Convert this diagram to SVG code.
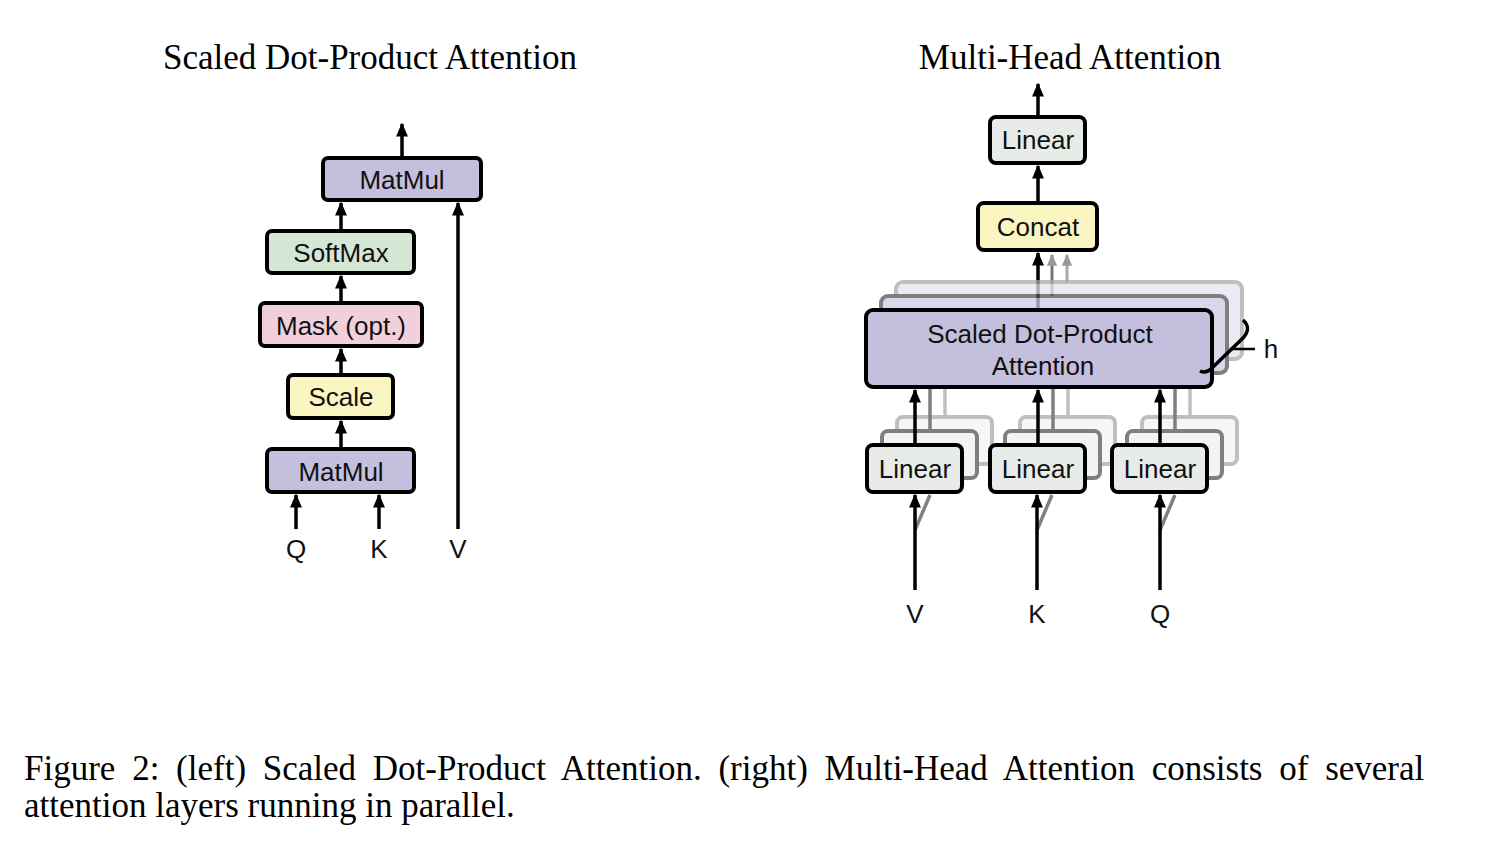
<svg xmlns="http://www.w3.org/2000/svg" width="1510" height="864" viewBox="0 0 1510 864">
<defs>
<marker id="ah" viewBox="0 0 10 10" refX="9" refY="5" markerWidth="4" markerHeight="3.4" orient="auto" markerUnits="strokeWidth" preserveAspectRatio="none"><path d="M0,0 L10,5 L0,10 Z" fill="#000"/></marker>
<marker id="ahg" viewBox="0 0 10 10" refX="9" refY="5" markerWidth="4" markerHeight="3.4" orient="auto" markerUnits="strokeWidth" preserveAspectRatio="none"><path d="M0,0 L10,5 L0,10 Z" fill="#999"/></marker>
<style>
.b{stroke:#000;stroke-width:4}
.t{font-family:"Liberation Sans",Arial,sans-serif;font-size:26px;text-anchor:middle;fill:#111}
.s{font-family:"Liberation Serif","Times New Roman",serif;font-size:35px;fill:#000}
.l{stroke:#000;stroke-width:3.5;fill:none}
.pur{fill:#c4bfdd}.grn{fill:#d3e7d4}.pnk{fill:#f1cfdd}.yel{fill:#fbf5c2}.lin{fill:#e8ece8}
</style>
</defs>
<rect width="1510" height="864" fill="#fff"/>
<text class="s" x="370" y="69" text-anchor="middle">Scaled Dot-Product Attention</text>
<text class="s" x="1070" y="69" text-anchor="middle">Multi-Head Attention</text>

<g id="connectors">
<line class="l" x1="402" y1="157" x2="402" y2="124" marker-end="url(#ah)"/>
<line class="l" x1="341" y1="230" x2="341" y2="203" marker-end="url(#ah)"/>
<line class="l" x1="341" y1="302" x2="341" y2="276" marker-end="url(#ah)"/>
<line class="l" x1="341" y1="374" x2="341" y2="349" marker-end="url(#ah)"/>
<line class="l" x1="341" y1="448" x2="341" y2="421" marker-end="url(#ah)"/>
<line class="l" x1="296" y1="529" x2="296" y2="495" marker-end="url(#ah)"/>
<line class="l" x1="379" y1="529" x2="379" y2="495" marker-end="url(#ah)"/>
<line class="l" x1="458" y1="529" x2="458" y2="203" marker-end="url(#ah)"/>

<line class="l" x1="1038" y1="116" x2="1038" y2="84" marker-end="url(#ah)"/>
<line class="l" x1="1038" y1="202" x2="1038" y2="166" marker-end="url(#ah)"/>
<line x1="1067" y1="282" x2="1067" y2="255" stroke="#aaa" stroke-width="3" marker-end="url(#ahg)"/>
<line x1="1052" y1="296" x2="1052" y2="255" stroke="#777" stroke-width="3" marker-end="url(#ahg)"/>
<line class="l" x1="1038" y1="309" x2="1038" y2="253" marker-end="url(#ah)"/>
</g>

<g id="sdpa-matmul-top"><rect class="b pur" x="323" y="158" width="158" height="42" rx="5"/><text class="t" x="402" y="189">MatMul</text></g>
<g id="sdpa-softmax"><rect class="b grn" x="267" y="231" width="147" height="42" rx="5"/><text class="t" x="341" y="262">SoftMax</text></g>
<g id="sdpa-mask"><rect class="b pnk" x="260" y="303" width="162" height="43" rx="5"/><text class="t" x="341" y="335">Mask (opt.)</text></g>
<g id="sdpa-scale"><rect class="b yel" x="288" y="375" width="105" height="43" rx="5"/><text class="t" x="341" y="406">Scale</text></g>
<g id="sdpa-matmul-bottom"><rect class="b pur" x="267" y="449" width="147" height="43" rx="5"/><text class="t" x="341" y="481">MatMul</text></g>
<text class="t" x="296" y="558" font-size="28">Q</text>
<text class="t" x="379" y="558" font-size="28">K</text>
<text class="t" x="458" y="558" font-size="28">V</text>

<g id="mha-linear-top"><rect class="b lin" x="990" y="117" width="95" height="46" rx="6"/><text class="t" x="1038" y="149">Linear</text></g>
<g id="mha-concat"><rect class="b yel" x="978" y="203" width="119" height="47" rx="6"/><text class="t" x="1038" y="236">Concat</text></g>

<g id="mha-shadows" opacity="0.75">
<rect x="896" y="282" width="346" height="77" rx="7" fill="#e6e3f0" stroke="#aaa" stroke-width="4"/>
<rect x="881" y="296" width="346" height="77" rx="7" fill="#cfcae4" stroke="#555" stroke-width="4"/>
<rect x="897" y="417" width="95" height="47" rx="6" fill="#f2f4f2" stroke="#aaa" stroke-width="4"/>
<rect x="882" y="431" width="95" height="47" rx="6" fill="#eef0ee" stroke="#555" stroke-width="4"/>
<rect x="1020" y="417" width="95" height="47" rx="6" fill="#f2f4f2" stroke="#aaa" stroke-width="4"/>
<rect x="1005" y="431" width="95" height="47" rx="6" fill="#eef0ee" stroke="#555" stroke-width="4"/>
<rect x="1142" y="417" width="95" height="47" rx="6" fill="#f2f4f2" stroke="#aaa" stroke-width="4"/>
<rect x="1127" y="431" width="95" height="47" rx="6" fill="#eef0ee" stroke="#555" stroke-width="4"/>
<g stroke-width="3.5">
<line x1="930" y1="430" x2="930" y2="373" stroke="#555"/><line x1="945" y1="416" x2="945" y2="359" stroke="#aaa"/>
<line x1="1053" y1="430" x2="1053" y2="373" stroke="#555"/><line x1="1068" y1="416" x2="1068" y2="359" stroke="#aaa"/>
<line x1="1175" y1="430" x2="1175" y2="373" stroke="#555"/><line x1="1190" y1="416" x2="1190" y2="359" stroke="#aaa"/>
<line x1="915" y1="530" x2="930" y2="495" stroke="#555"/>
<line x1="1037" y1="530" x2="1052" y2="495" stroke="#555"/>
<line x1="1160" y1="530" x2="1175" y2="495" stroke="#555"/>
</g>
</g>

<g id="mha-sdpa"><rect class="b pur" x="866" y="310" width="346" height="77" rx="7"/><text class="t" x="1040" y="343">Scaled Dot-Product</text><text class="t" x="1043" y="375">Attention</text></g>
<path d="M1243,320 Q1252,328 1243,338 L1212,368 Q1206,374 1200,371" fill="none" stroke="#000" stroke-width="3.5"/>
<line x1="1230" y1="349" x2="1255" y2="349" stroke="#000" stroke-width="2.5"/>
<text class="t" x="1271" y="358">h</text>

<g id="mha-linear-v"><rect class="b lin" x="867" y="445" width="95" height="47" rx="6"/><text class="t" x="915" y="478">Linear</text></g>
<g id="mha-linear-k"><rect class="b lin" x="990" y="445" width="95" height="47" rx="6"/><text class="t" x="1038" y="478">Linear</text></g>
<g id="mha-linear-q"><rect class="b lin" x="1112" y="445" width="95" height="47" rx="6"/><text class="t" x="1160" y="478">Linear</text></g>

<g id="connectors-mha">
<line class="l" x1="915" y1="444" x2="915" y2="390" marker-end="url(#ah)"/>
<line class="l" x1="1038" y1="444" x2="1038" y2="390" marker-end="url(#ah)"/>
<line class="l" x1="1160" y1="444" x2="1160" y2="390" marker-end="url(#ah)"/>
<line class="l" x1="915" y1="590" x2="915" y2="495" marker-end="url(#ah)"/>
<line class="l" x1="1037" y1="590" x2="1037" y2="495" marker-end="url(#ah)"/>
<line class="l" x1="1160" y1="590" x2="1160" y2="495" marker-end="url(#ah)"/>
</g>
<text class="t" x="915" y="623" font-size="28">V</text>
<text class="t" x="1037" y="623" font-size="28">K</text>
<text class="t" x="1160" y="623" font-size="28">Q</text>

<text class="s" x="24" y="780" word-spacing="8">Figure 2: (left) Scaled Dot-Product Attention.  (right) Multi-Head Attention consists of several</text>
<text class="s" x="24" y="817">attention layers running in parallel.</text>
</svg>
